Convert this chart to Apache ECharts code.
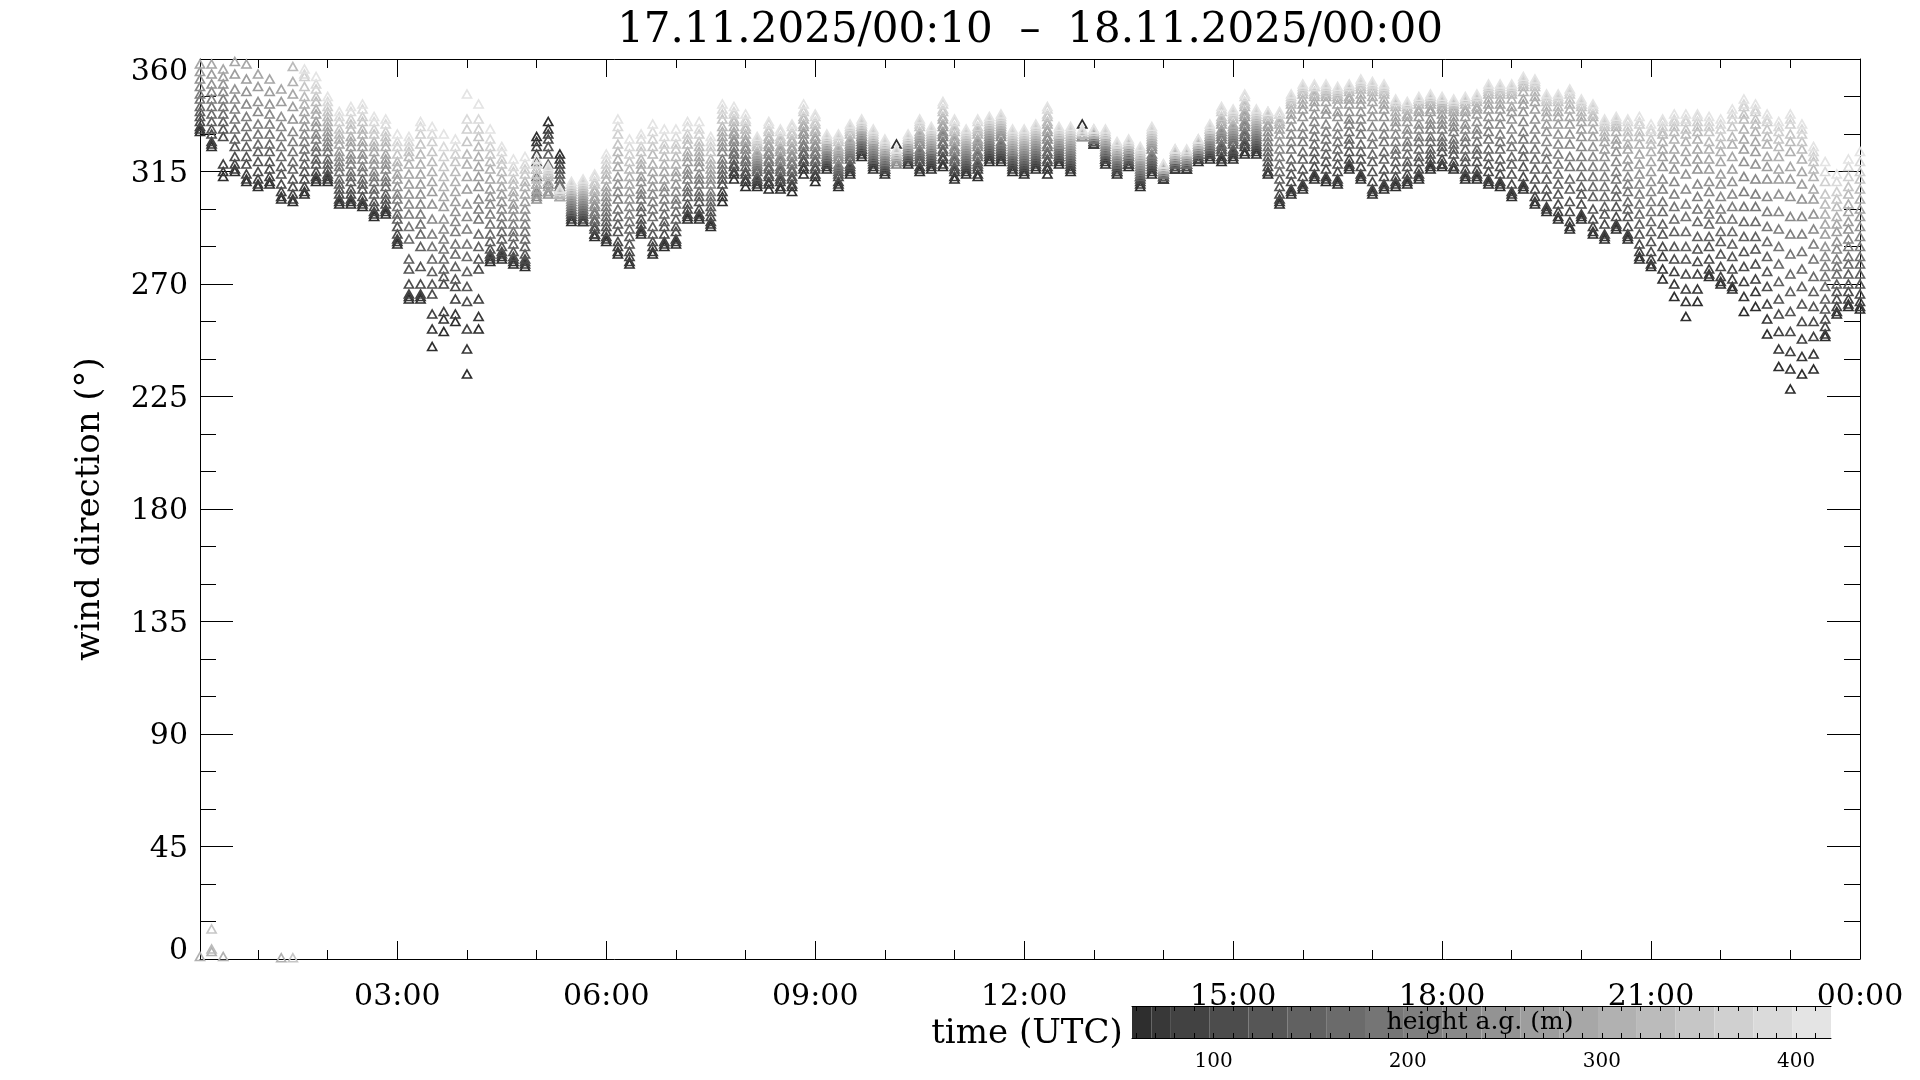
<!DOCTYPE html>
<html>
<head>
<meta charset="utf-8">
<script src="https://cdn.jsdelivr.net/npm/echarts@6/dist/echarts.min.js"></script>
<style>
html,body{margin:0;padding:0;background:#ffffff;}
#c{width:1920px;height:1080px;}
</style>
</head>
<body>
<div id="c"></div>
<script>
// ---------------- data ----------------
const titleText = '17.11.2025/00:10  \u2013  18.11.2025/00:00';
const firstMinute = 10;           // first profile: 00:10 UTC
const stepMinutes = 10;           // one profile every 10 minutes
const xTickMinutes = [180, 360, 540, 720, 900, 1080, 1260, 1440];
const xTickLabels = ['03:00', '06:00', '09:00', '12:00', '15:00', '18:00', '21:00', '00:00'];
const xMinorMinutes = [60, 120, 240, 300, 420, 480, 600, 660, 780, 840, 960, 1020, 1140, 1200, 1320, 1380];
const gateHeights = [63, 73, 88, 108, 128, 148, 168, 188, 208, 228, 248, 268, 288, 308, 328, 348, 368, 388, 408];
const colorbarEdges = [58, 68, 78, 98, 118, 138, 158, 178, 198, 218, 238, 258, 278, 298, 318, 338, 358, 378, 398, 418];
const colorbarTickLabels = [100, 200, 300, 400];
const colorbarMinorTicks = [60,70,80,90,100,110,120,130,140,150,160,170,180,190,200,210,220,230,240,250,260,270,280,290,300,310,320,330,340,350,360,370,380,390,400,410];
const gateColors = ['#2e2e2e','#383838','#424242','#4c4c4c','#565656','#616161','#6b6b6b','#757575','#7f7f7f','#898989','#939393','#9d9d9d','#a7a7a7','#b1b1b1','#bbbbbb','#c6c6c6','#d0d0d0','#dadada','#e4e4e4'];

// wind direction (deg) per profile, lowest gate first; '-' = no value
const profiles0010to0300 = [
"331 332 333 335 337 339 341 344 346 349 352 355 358 1 - - - - -",
"325 326 327 330 332 335 338 341 344 347 350 354 358 3 4 12 - - -",
"313 315 318 329 332 335 338 341 344 347 350 353 356 1 - - - - -",
"315 316 318 321 325 328 332 336 340 344 348 354 359 - - - - - -",
"311 312 314 318 321 325 329 333 337 342 347 352 358 - - - - - -",
"309 310 312 315 319 323 326 330 334 339 343 349 354 - - - - - -",
"310 311 313 316 319 323 326 330 334 338 342 347 352 - - - - - -",
"304 305 307 310 314 317 321 325 329 333 337 343 348 0.5 - - - - -",
"303 304 306 309 312 316 319 323 327 331 336 341 346 351 357 0.5 - - -",
"306 307 309 312 315 318 321 324 327 330 333 336 339 342 345 349 353 354 356",
"311 312 313 315 318 320 323 325 328 330 333 335 338 340 343 345 348 350 353",
"311 312 313 314 316 318 320 323 325 327 329 331 333 335 337 339 341 343 345",
"302 303 304 306 308 310 312 315 317 319 321 323 326 328 330 332 335 337 339",
"302 303 304 306 308 311 313 315 318 320 322 325 327 329 332 334 336 339 341",
"301 302 303 305 308 310 312 315 317 320 322 325 327 330 332 335 337 340 342",
"297 298 299 301 303 306 308 311 313 315 318 320 323 325 327 330 332 335 337",
"298 299 300 302 304 306 309 311 313 316 318 320 322 325 327 329 331 334 336",
"286 287 288 290 293 296 298 301 304 306 309 312 314 317 319 322 325 327 330"
];
const profiles0310to0600 = [
"264 265 266 270 276 280 288 293 298 302 306 310 314 318 321 323 325 327 329",
"264 265 266 270 277 285 290 294 298 302 306 310 314 318 322 326 330 333 335",
"245 252 258 266 270 275 280 285 290 296 302 307 311 315 319 323 327 330 333",
"251 256 259 270 273 276 280 284 288 292 296 301 305 309 313 317 321 325 330",
"255 258 264 269 272 277 282 286 291 295 299 303 307 311 315 319 322 325 328",
"234 244 252 263 269 275 281 286 292 297 302 308 313 318 322 327 332 336 346",
"252 257 264 276 280 285 290 296 300 304 309 313 317 321 325 329 332 336 342",
"279 280 281 282 284 287 290 294 298 302 305 308 312 316 319 322 325 328 332",
"280 281 282 283 285 288 291 294 297 300 303 306 309 312 315 318 320 323 325",
"278 279 280 281 283 286 289 291 294 297 300 302 305 307 310 312 315 317 320",
"277 278 279 280 282 285 288 291 294 297 300 303 306 309 311 314 316 318 321",
"329 327 325 322 319 316 313 310 307 305 304 306 308 310 312 314 316 318 320",
"335 332 330 328 325 322 318 314 310 307 306 307 309 311 313 314 315 316 317",
"322 320 318 316 314 312 310 309 308 307 306 305 305 306 306 307 307 308 308",
"295 296 297 298 299 299 300 301 302 303 304 305 306 307 307 308 309 310 311",
"295 295 296 297 298 299 300 301 302 303 304 305 306 307 308 309 310 311 312",
"289 290 290 292 293 295 296 298 299 301 302 304 305 307 308 310 311 313 314",
"287 288 289 291 293 295 297 299 301 303 305 307 309 312 314 316 318 320 322"
];
const profiles0610to0900 = [
"282 283 285 287 291 294 297 300 304 307 310 313 317 320 323 326 330 333 336",
"278 279 281 283 286 289 292 295 298 301 304 307 310 313 316 319 322 325 328",
"290 291 292 294 296 299 301 304 306 308 311 313 316 318 320 323 325 328 330",
"282 283 285 287 290 293 297 300 303 306 309 312 315 318 322 325 328 331 334",
"285 286 287 290 293 295 298 301 304 307 309 312 315 318 321 324 326 329 332",
"286 287 288 291 293 296 299 302 304 307 310 313 315 318 321 324 326 329 332",
"296 297 298 300 302 305 307 309 312 314 316 319 321 323 326 328 330 333 335",
"296 297 298 300 303 305 307 310 312 314 317 319 321 323 325 327 330 332 335",
"293 294 295 297 299 301 303 305 307 310 312 314 316 318 320 323 325 327 329",
"303 305 307 310 312 314 316 318 320 323 325 327 329 331 333 336 338 340 342",
"312 314 315 317 318 320 322 323 325 327 328 330 331 333 335 336 338 339 341",
"309 311 312 314 315 317 319 320 322 324 325 327 328 330 332 333 335 336 338",
"309 310 311 312 313 315 316 317 318 319 320 321 322 323 325 326 327 328 329",
"308 310 311 313 314 316 317 319 320 322 323 325 326 328 329 331 332 334 335",
"308 309 311 312 313 315 316 317 319 320 321 323 324 325 327 328 329 331 332",
"307 309 310 312 313 315 316 318 319 321 322 324 325 327 328 330 331 333 334",
"314 316 317 319 320 322 323 325 326 328 330 331 333 334 336 337 339 340 342",
"311 313 314 316 317 319 320 322 323 325 326 328 329 331 332 334 335 337 338"
];
const profiles0910to1200 = [
"316 317 318 318 319 320 321 321 322 323 324 325 325 326 327 328 328 329 330",
"309 310 311 313 314 315 316 317 318 320 321 322 323 324 325 327 328 329 330",
"314 315 316 317 318 320 321 322 323 324 325 326 327 328 330 331 332 333 334",
"321 322 323 324 324 325 326 327 328 329 329 330 331 332 333 333 334 335 336",
"316 317 318 319 320 320 321 322 323 324 325 326 327 328 328 329 330 331 332",
"314 315 316 316 317 318 319 319 320 321 322 323 323 324 325 326 326 327 328",
"326 - - - - - - - 318 319 319 320 321 321 322 322 323 324 324",
"318 319 319 320 321 321 322 323 323 324 324 325 326 326 327 328 328 329 330",
"315 316 317 319 320 321 322 323 324 326 327 328 329 330 331 333 334 335 336",
"316 317 318 319 320 321 322 323 324 324 325 326 327 328 329 330 331 332 333",
"317 318 320 321 323 324 326 327 329 330 331 333 334 336 337 339 340 342 343",
"312 313 315 316 317 319 320 321 323 324 325 327 328 329 331 332 333 335 336",
"314 315 316 317 318 319 320 321 322 323 324 325 326 327 328 329 330 331 332",
"313 314 316 317 318 319 321 322 323 325 326 327 328 330 331 332 333 335 336",
"319 320 321 322 323 324 325 326 327 328 329 330 331 332 333 334 335 336 337",
"319 320 321 322 323 324 325 326 327 329 330 331 332 333 334 335 336 337 338",
"315 316 317 318 319 320 321 322 323 323 324 325 326 327 328 329 330 331 332",
"314 315 316 317 318 319 320 321 322 323 324 325 326 327 328 329 330 331 332"
];
const profiles1210to1500 = [
"316 317 318 319 320 321 322 323 324 325 326 327 328 329 330 331 332 333 334",
"314 316 317 319 320 322 323 325 326 328 329 331 332 334 335 337 338 340 341",
"318 319 320 321 321 322 323 324 325 326 326 327 328 329 330 330 331 332 333",
"315 316 317 318 319 320 321 322 323 324 325 326 327 328 329 330 331 332 333",
"334 - - - - - - - 329 329 329 330 330 330 330 331 331 331 332",
"326 326 327 327 327 328 328 328 329 329 329 330 330 330 331 331 331 332 332",
"318 319 320 320 321 322 323 323 324 325 326 327 327 328 329 330 330 331 332",
"314 315 315 316 317 318 318 319 320 321 321 322 323 323 324 325 326 326 327",
"317 318 318 319 319 320 321 321 322 322 323 324 324 325 326 326 327 327 328",
"309 310 311 312 313 313 314 315 316 317 318 319 320 321 321 322 323 324 325",
"314 315 316 317 318 319 320 321 322 324 325 326 327 328 329 330 331 332 333",
"312 312 313 313 313 314 314 314 315 315 315 316 316 316 317 317 317 318 318",
"316 316 317 317 318 318 319 319 320 320 320 321 321 322 322 323 323 324 324",
"316 316 317 317 318 318 318 319 319 320 320 321 321 322 322 323 323 323 324",
"319 320 320 321 321 322 322 323 323 324 324 325 325 326 326 327 327 328 328",
"320 321 322 322 323 324 325 325 326 327 328 329 329 330 331 332 332 333 334",
"319 320 321 323 324 325 326 328 329 330 331 332 334 335 336 337 339 340 341",
"320 321 322 323 324 326 327 328 329 330 331 332 333 334 336 337 338 339 340"
];
const profiles1510to1800 = [
"322 323 325 326 327 329 330 331 333 334 335 337 338 339 341 342 343 345 346",
"322 323 324 325 326 327 328 329 330 331 332 333 334 335 336 337 338 339 340",
"314 315 315 317 319 321 323 325 327 329 331 333 334 336 337 337 338 339 339",
"302 303 304 306 309 312 315 318 321 324 327 330 332 334 335 336 338 338 339",
"306 307 308 311 314 317 320 324 327 330 333 336 338 340 342 343 344 345 346",
"308 309 310 313 316 320 323 327 330 333 337 340 342 344 346 347 348 349 350",
"312 313 314 317 320 323 326 329 332 335 338 341 343 345 346 347 349 349 350",
"311 312 313 316 319 322 325 328 331 334 338 340 343 345 346 347 348 349 350",
"310 311 312 315 318 321 324 327 330 333 337 339 342 344 345 346 347 348 349",
"316 317 318 320 323 326 328 331 334 336 339 342 344 345 347 348 349 349 350",
"312 313 314 317 320 323 326 330 333 336 339 342 344 346 348 349 350 351 352",
"306 307 308 311 315 319 322 326 329 333 337 340 343 345 347 348 349 350 351",
"308 309 310 313 316 320 323 327 330 333 337 340 342 344 346 347 348 349 350",
"309 310 311 313 316 319 322 324 327 330 333 335 337 339 341 342 343 343 344",
"310 311 312 314 317 319 322 325 327 330 332 335 337 338 340 341 342 342 343",
"312 313 314 316 319 321 324 327 329 332 334 337 339 340 342 343 344 344 345",
"316 317 318 320 322 324 327 329 332 334 336 339 340 342 343 344 345 345 346",
"317 318 318 320 323 325 327 329 332 334 336 338 340 341 342 343 344 344 345"
];
const profiles1810to2100 = [
"316 317 317 319 322 324 326 328 331 333 335 337 339 340 341 342 343 343 344",
"312 313 314 316 319 321 324 327 329 332 334 337 339 340 342 343 344 344 345",
"312 313 314 316 319 322 324 327 330 332 335 338 340 341 343 344 345 345 346",
"310 311 312 315 318 321 324 328 331 334 337 340 342 344 346 347 348 349 350",
"309 310 311 314 317 320 324 327 330 334 337 340 342 344 346 347 348 349 350",
"305 306 307 310 314 318 321 325 328 332 336 339 341 344 346 347 348 349 350",
"308 309 310 313 317 321 324 328 331 335 339 342 344 347 349 350 351 352 353",
"302 303 305 308 312 316 320 324 328 332 336 340 343 345 347 349 350 351 352",
"299 300 301 305 308 312 316 320 323 327 331 334 337 339 341 343 344 345 346",
"296 297 299 302 306 310 314 318 322 326 330 334 337 339 341 343 344 345 346",
"292 293 295 299 303 308 312 317 321 326 330 334 337 340 342 344 346 347 348",
"296 297 298 302 306 309 313 317 321 325 329 332 335 337 339 341 342 343 344",
"290 291 293 296 300 305 309 313 317 321 325 329 332 335 337 338 340 341 342",
"288 289 290 294 298 301 305 309 313 317 321 324 327 329 331 333 334 335 336",
"292 293 294 297 301 305 308 312 315 319 323 326 328 331 333 334 335 336 337",
"288 289 290 293 297 300 303 307 310 313 317 320 324 326 329 331 333 335 336",
"280 281 283 286 290 294 298 302 306 310 314 318 322 326 329 331 334 335 337",
"277 278 280 283 287 291 295 299 303 307 311 315 319 323 326 328 331 332 334"
];
const profiles2110to2400 = [
"272 276 281 285 290 294 299 303 308 312 317 321 324 327 330 331 333 335 336",
"265 270 275 280 285 291 296 301 306 311 316 320 324 328 331 333 335 336 338",
"257 263 268 274 280 285 291 297 302 308 314 319 323 327 330 332 335 336 338",
"263 268 274 279 284 289 295 300 305 310 316 320 324 328 331 333 335 337 338",
"273 274 276 280 285 289 294 298 302 307 311 316 320 324 327 331 333 335 337",
"270 271 273 277 282 287 291 296 300 305 310 314 319 323 326 329 332 334 336",
"268 269 272 276 281 286 291 296 301 306 311 316 321 326 329 333 336 338 340",
"259 265 271 277 283 289 295 301 307 313 319 324 328 332 336 338 341 342 344",
"261 267 272 278 284 289 295 301 306 312 318 323 327 331 334 336 339 340 342",
"250 256 262 269 275 281 287 293 299 305 312 317 321 326 329 332 335 336 338",
"237 244 251 258 264 271 278 285 292 299 306 312 316 321 325 328 331 333 335",
"228 236 243 251 259 267 274 282 290 297 305 312 317 323 327 330 334 336 338",
"234 241 248 255 262 269 276 283 290 297 304 310 315 320 324 327 330 332 334",
"236 242 249 255 261 267 273 280 286 292 298 304 308 313 316 319 321 323 325",
"249 250 253 256 260 264 269 273 277 281 285 290 294 298 302 306 311 315 319",
"258 259 261 264 267 270 274 277 280 284 287 291 294 297 301 304 307 311 314",
"261 262 264 267 270 274 278 281 285 288 292 295 299 302 306 309 313 317 320",
"260 261 263 266 270 274 278 281 285 289 293 297 300 304 308 312 315 319 323"
];

// ---------------- chart ----------------
const FONT = 'DejaVu Serif';
const INK = '#000000';
const profiles = [].concat(profiles0010to0300, profiles0310to0600, profiles0610to0900, profiles0910to1200,
  profiles1210to1500, profiles1510to1800, profiles1810to2100, profiles2110to2400);

const scatterSeries = gateHeights.map((h, g) => ({
  type: 'scatter',
  name: h + ' m',
  xAxisIndex: 0,
  yAxisIndex: 0,
  symbol: 'triangle',
  symbolSize: [9, 8],
  itemStyle: { color: 'rgba(0,0,0,0)', borderColor: gateColors[g], borderWidth: 1.7, opacity: 1 },
  silent: true,
  animation: false,
  z: 2,
  data: []
}));
profiles.forEach((row, k) => {
  const t = firstMinute + k * stepMinutes;
  row.trim().split(/\s+/).forEach((tok, g) => {
    if (tok !== '-' && g < scatterSeries.length) scatterSeries[g].data.push([t, parseFloat(tok)]);
  });
});

const bands = gateColors.map((c, i) => [colorbarEdges[i], colorbarEdges[i + 1], i]);

const baseX = {
  type: 'value', gridIndex: 0, min: 10, max: 1440,
  splitLine: { show: false },
  axisLine: { show: false, onZero: false },
  axisLabel: { show: false },
  axisTick: { show: false }
};

const yLabelStyle = { fontFamily: FONT, fontSize: 30, color: INK };

const option = {
  backgroundColor: '#ffffff',
  animation: false,
  grid: [
    { left: 200, top: 59, width: 1660, height: 900, containLabel: false },
    { left: 1132, top: 1006, width: 699, height: 32, containLabel: false }
  ],
  xAxis: [
    Object.assign({}, baseX, {
      position: 'bottom',
      axisLine: { show: true, onZero: false, lineStyle: { color: INK, width: 1 } },
      axisTick: { show: true, inside: true, length: 18, customValues: xTickMinutes, lineStyle: { color: INK, width: 1 } },
      axisLabel: {
        show: true, customValues: xTickMinutes, margin: 23,
        fontFamily: FONT, fontSize: 30, color: INK,
        formatter: v => { const i = xTickMinutes.indexOf(v); return i >= 0 ? xTickLabels[i] : ''; }
      }
    }),
    Object.assign({}, baseX, {
      position: 'top',
      axisLine: { show: true, onZero: false, lineStyle: { color: INK, width: 1 } },
      axisTick: { show: true, inside: true, length: 18, customValues: xTickMinutes, lineStyle: { color: INK, width: 1 } }
    }),
    Object.assign({}, baseX, {
      position: 'bottom',
      axisTick: { show: true, inside: true, length: 9, customValues: xMinorMinutes, lineStyle: { color: INK, width: 1 } }
    }),
    Object.assign({}, baseX, {
      position: 'top',
      axisTick: { show: true, inside: true, length: 9, customValues: xMinorMinutes, lineStyle: { color: INK, width: 1 } }
    }),
    {
      type: 'value', gridIndex: 1, min: 58, max: 418, position: 'bottom', z: 10,
      splitLine: { show: false },
      axisLine: { show: true, onZero: false, lineStyle: { color: INK, width: 1 } },
      axisTick: { show: true, inside: true, length: 5, customValues: colorbarMinorTicks, lineStyle: { color: INK, width: 1 } },
      axisLabel: { show: true, customValues: colorbarTickLabels, margin: 14, fontFamily: FONT, fontSize: 20, color: INK }
    },
    {
      type: 'value', gridIndex: 1, min: 58, max: 418, position: 'top', z: 10,
      splitLine: { show: false },
      axisLine: { show: true, onZero: false, lineStyle: { color: INK, width: 1 } },
      axisTick: { show: true, inside: true, length: 5, customValues: colorbarMinorTicks, lineStyle: { color: INK, width: 1 } },
      axisLabel: { show: false }
    }
  ],
  yAxis: [
    {
      type: 'value', gridIndex: 0, min: 0, max: 360, interval: 45, position: 'left',
      splitLine: { show: false },
      axisLine: { show: true, onZero: false, lineStyle: { color: INK, width: 1 } },
      axisTick: { show: true, inside: true, length: 33, lineStyle: { color: INK, width: 1 } },
      minorTick: { show: true, splitNumber: 3, length: 16, lineStyle: { color: INK, width: 1 } },
      axisLabel: {
        show: true, margin: 12, fontFamily: FONT, fontSize: 30, color: INK,
        formatter: v => v === 360 ? '{t|360}' : (v === 0 ? '{b|0}' : '{n|' + v + '}'),
        rich: {
          t: Object.assign({ padding: [26, 0, 0, 0] }, yLabelStyle),
          b: Object.assign({ padding: [0, 0, 16, 0] }, yLabelStyle),
          n: Object.assign({ padding: [5, 0, 0, 0] }, yLabelStyle)
        }
      }
    },
    {
      type: 'value', gridIndex: 0, min: 0, max: 360, interval: 45, position: 'right',
      splitLine: { show: false },
      axisLine: { show: true, onZero: false, lineStyle: { color: INK, width: 1 } },
      axisTick: { show: true, inside: true, length: 33, lineStyle: { color: INK, width: 1 } },
      minorTick: { show: true, splitNumber: 3, length: 16, lineStyle: { color: INK, width: 1 } },
      axisLabel: { show: false }
    },
    { type: 'value', gridIndex: 1, min: 0, max: 1, show: false }
  ],
  series: scatterSeries.concat([{
    type: 'custom',
    xAxisIndex: 4,
    yAxisIndex: 2,
    silent: true,
    animation: false,
    z: 1,
    data: bands,
    renderItem: (params, api) => {
      const a = api.coord([api.value(0), 1]);
      const b = api.coord([api.value(1), 0]);
      return {
        type: 'rect',
        shape: { x: a[0], y: a[1], width: b[0] - a[0], height: b[1] - a[1] },
        style: { fill: gateColors[api.value(2)] }
      };
    }
  }]),
  graphic: [
    { type: 'text', x: 1030, y: 31, z: 100,
      style: { text: titleText, fontFamily: FONT, fontSize: 42, fill: INK, align: 'center', verticalAlign: 'middle' } },
    { type: 'text', x: 90, y: 509, rotation: Math.PI / 2, z: 100,
      style: { text: 'wind direction (\u00b0)', fontFamily: FONT, fontSize: 34, fill: INK, align: 'center', verticalAlign: 'middle' } },
    { type: 'text', x: 1027, y: 1034, z: 100,
      style: { text: 'time (UTC)', fontFamily: FONT, fontSize: 34, fill: INK, align: 'center', verticalAlign: 'middle' } },
    { type: 'text', x: 1480, y: 1022, z: 100,
      style: { text: 'height a.g. (m)', fontFamily: FONT, fontSize: 25, fill: INK, align: 'center', verticalAlign: 'middle' } }
  ]
};

const chart = echarts.init(document.getElementById('c'), null, { renderer: 'canvas', width: 1920, height: 1080 });
chart.setOption(option);
</script>
</body>
</html>
